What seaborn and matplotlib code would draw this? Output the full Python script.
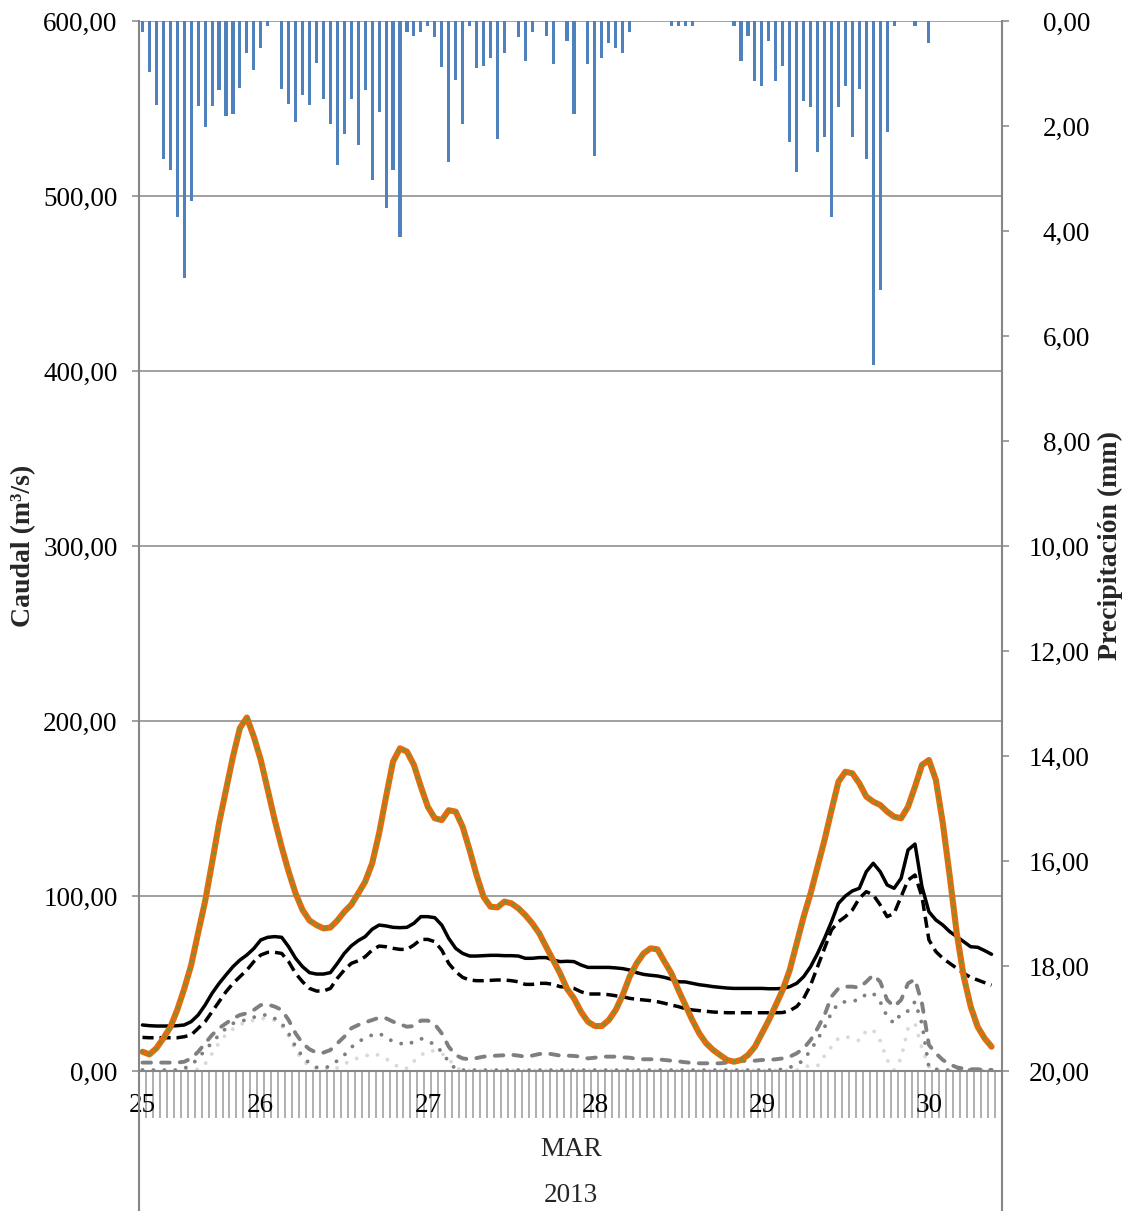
import numpy as np
import pandas as pd
import matplotlib
matplotlib.use("Agg")
import matplotlib.pyplot as plt
import seaborn as sns

# hourly categories, 25 MAR 07:00 -> 30 MAR 10:00
horas = np.arange(124)
dias = ["25", "26", "27", "28", "29", "30"]
dias_pos = [0, 17, 41, 65, 89, 113]

# precipitation (mm), one bar per hour
precipitacion = [
    0.20, 0.98, 1.60, 2.62, 2.83, 3.73, 4.90, 3.43, 1.61, 2.01,
    1.61, 1.31, 1.81, 1.78, 1.27, 0.60, 0.93, 0.52, 0.09, 0.00,
    1.29, 1.58, 1.93, 1.40, 1.60, 0.80, 1.49, 1.96, 2.74, 2.16,
    1.48, 2.36, 1.31, 3.02, 1.73, 3.56, 2.84, 4.11, 0.20, 0.29,
    0.20, 0.09, 0.30, 0.88, 2.69, 1.12, 1.97, 0.09, 0.90, 0.86,
    0.70, 2.25, 0.61, 0.00, 0.30, 0.76, 0.20, 0.00, 0.29, 0.82,
    0.00, 0.39, 1.77, 0.00, 0.81, 2.58, 0.70, 0.41, 0.51, 0.60,
    0.20, 0.00, 0.00, 0.00, 0.00, 0.00, 0.09, 0.09, 0.09, 0.09,
    0.00, 0.00, 0.00, 0.00, 0.00, 0.09, 0.76, 0.29, 1.14, 1.24,
    0.38, 1.14, 0.86, 2.30, 2.88, 1.53, 1.63, 2.50, 2.21, 3.74,
    1.63, 1.24, 2.21, 1.30, 2.62, 6.56, 5.12, 2.11, 0.09, 0.00,
    0.00, 0.09, 0.00, 0.41, 0.00, 0.00, 0.00, 0.00, 0.00, 0.00,
    0.00, 0.00, 0.00, 0.00,
]

# discharge series (m3/s)
caudal_obs = [
    11, 9.5, 13, 18.7, 25, 35, 47, 60.6, 79, 97,
    119, 141.5, 160.6, 179.6, 196, 201, 190, 177.7, 160.6, 143.4,
    128, 113.9, 101.5, 92, 86, 83.4, 81.5, 82, 86, 91,
    95, 101.5, 108.2, 118.7, 135.8, 156.8, 176.8, 184.4, 182.5, 174.9,
    162.5, 151, 144.4, 143.4, 149, 148.2, 139.6, 126.3, 112, 99.6,
    93.9, 93.5, 96.8, 95.8, 93, 89.1, 84.4, 78.7, 71, 63.4,
    55.8, 47, 41.5, 33.9, 28.2, 25.7, 25.7, 29.1, 34.9, 43.4,
    53.9, 61.5, 67.2, 70.1, 69.5, 62.5, 55.8, 46.3, 37.7, 29.1,
    21.5, 15.8, 12, 9.1, 6.3, 5.3, 6.3, 9.1, 13.9, 21.5,
    29.1, 37.7, 46.5, 57.7, 73, 88.2, 101.5, 116.8, 132, 149,
    165.3, 171, 170.1, 164.4, 156.8, 153.9, 152, 148.2, 145.3, 144.4,
    151, 162.5, 174.9, 177.7, 166.3, 141.5, 111, 78.7, 53.9, 36.8,
    25.3, 18.7, 13.9,
]
caudal_sim = [
    11, 9.5, 13, 18.7, 25, 35, 47, 60.6, 79, 97,
    119, 141.5, 160.6, 179.6, 196, 202, 191, 177.7, 160.6, 143.4,
    128, 113.9, 101.5, 92, 86, 83.4, 81.5, 82, 86, 91,
    95, 101.5, 108.2, 118.7, 135.8, 156.8, 176.8, 184.4, 182.5, 174.9,
    162.5, 151, 144.4, 143.4, 149, 148.2, 139.6, 126.3, 112, 99.6,
    93.9, 93.5, 96.8, 95.8, 93, 89.1, 84.4, 78.7, 71, 63.4,
    55.8, 47, 41.5, 33.9, 28.2, 25.7, 25.7, 29.1, 34.9, 43.4,
    53.9, 61.5, 67.2, 70.1, 69.5, 62.5, 55.8, 46.3, 37.7, 29.1,
    21.5, 15.8, 12, 9.1, 6.3, 5.3, 6.3, 9.1, 13.9, 21.5,
    29.1, 37.7, 46.5, 57.7, 73, 88.2, 101.5, 116.8, 132, 149,
    165.3, 171, 170.1, 164.4, 156.8, 153.9, 152, 148.2, 145.3, 144.4,
    151, 162.5, 174.9, 177.7, 166.3, 141.5, 111, 78.7, 53.9, 36.8,
    25.3, 18.7, 13.9,
]
caudal_base = [
    26.3, 25.9, 25.7, 25.7, 25.7, 25.9, 26.3, 28.2, 32, 37.7,
    44.4, 50, 54.9, 59.6, 63.4, 66.3, 70, 74.9, 76.4, 76.8,
    76.4, 71, 64.4, 59.6, 56.2, 55.4, 55.4, 56.2, 61.5, 67.2,
    71.5, 74.5, 76.8, 81, 83.4, 82.9, 82.1, 81.9, 82.1, 84.4,
    88.2, 88.2, 87.6, 83.4, 75.8, 70.1, 67.2, 65.7, 65.7, 65.9,
    66.1, 66.1, 65.9, 65.9, 65.7, 64.4, 64.4, 64.8, 64.8, 63.4,
    62.5, 62.7, 62.5, 60.6, 59.2, 59.2, 59.2, 59.2, 58.9, 58.5,
    57.7, 56.2, 55.2, 54.7, 54.3, 53.5, 52.4, 51, 50.9, 50.1,
    49.3, 48.8, 48.2, 47.8, 47.4, 47.2, 47.2, 47.2, 47.2, 47.2,
    47, 47, 47.2, 48.2, 50.1, 53.9, 59.6, 67.2, 75.8, 85.3,
    95.8, 100, 102.9, 104.4, 113.9, 118.7, 113.9, 106.3, 104.4, 110.1,
    126.3, 129.7, 105.3, 91, 86.3, 83.4, 79.6, 76.8, 73.9, 71,
    70.7, 68.8, 66.7,
]
caudal_base2 = [
    19.2, 19, 19, 19, 19, 19, 19.6, 20.6, 24.4, 28.2,
    33.9, 39.6, 45.3, 50, 53.9, 57.7, 62.5, 66.3, 67.8, 67.8,
    67.2, 62.5, 55.8, 51, 47.2, 45.7, 45.7, 47.2, 53, 57.7,
    61.5, 63, 65.3, 69.1, 71.4, 71, 70.1, 69.5, 69.5, 72,
    75.2, 75.2, 73.9, 69.1, 61.5, 56.8, 53.5, 52, 51.6, 51.6,
    51.8, 52, 52, 51.6, 51, 49.5, 49.5, 50.1, 50.1, 49.5,
    48.2, 47.9, 47.2, 45.3, 44, 44, 44, 43.6, 43, 42.5,
    41.5, 41, 40.6, 40.2, 39.6, 38.7, 37.7, 36.8, 35.6, 34.9,
    34.5, 34.1, 33.7, 33.5, 33.3, 33.3, 33.3, 33.3, 33.3, 33.3,
    33.3, 33.3, 33.4, 34.5, 36.8, 41.5, 49.1, 59.6, 70.1, 80.6,
    85.3, 88.2, 92, 98.7, 102.5, 100.6, 94.9, 88.2, 90.1, 99.6,
    109.1, 112, 99.6, 74.9, 68.2, 64.4, 61.5, 58.7, 55.8, 53.5,
    52, 50.5, 49.1,
]
caudal_sub1 = [
    4.8, 4.8, 4.8, 4.8, 4.8, 4.8, 5.3, 7.2, 11, 15.8,
    20.6, 24.4, 27.2, 30, 32, 33, 34.9, 37.7, 38, 36.8,
    34.9, 29.1, 21.5, 15.8, 12.4, 10.5, 10.5, 12, 15.8, 19.6,
    24.4, 26.3, 27.8, 29.1, 30.5, 30.1, 28.2, 26.7, 25.3, 25.7,
    28.8, 28.8, 26.7, 21.5, 13.9, 9.1, 7.2, 6.7, 7.4, 8.2,
    8.6, 8.8, 9, 9.3, 8.8, 8.2, 8.8, 9.7, 10.1, 9.5,
    8.8, 8.8, 8.6, 8.2, 7.2, 7.6, 8.2, 8.2, 8.2, 7.8,
    7.6, 6.9, 6.7, 6.7, 6.7, 6.3, 5.9, 5.5, 5, 4.6,
    4.4, 4.4, 4.4, 4.4, 4.8, 5.3, 5.7, 5.9, 5.9, 6.3,
    6.3, 6.7, 7.2, 8.2, 10.1, 13, 17.7, 24.4, 32, 42.5,
    47.2, 48.2, 48.2, 47.6, 51, 54.9, 51, 40.6, 36.8, 40.6,
    50.1, 52.4, 38.7, 14.9, 10.1, 6.3, 3.8, 2.1, 1.3, 1,
    1, 0.6, 0.6,
]
caudal_sub2 = [
    0.6, 0.5, 0.5, 0.5, 0.5, 0.5, 1.5, 3.4, 7.2, 12,
    16.2, 20.6, 24.4, 27.2, 28.6, 29.1, 30.7, 32, 32, 30,
    27.2, 21.5, 13.9, 8.2, 4.4, 2.1, 1.5, 2.9, 5.9, 9.1,
    13.5, 16.8, 18.7, 20.6, 21.5, 19.2, 16.8, 15.8, 15, 16.8,
    18.5, 17.3, 14.9, 11, 5.3, 1.1, 0.5, 0.5, 0.5, 0.5,
    0.5, 0.5, 0.5, 0.5, 0.5, 0.5, 0.5, 0.5, 0.5, 0.5,
    0.5, 0.5, 0.5, 0.5, 0.5, 0.5, 0.5, 0.5, 0.5, 0.5,
    0.5, 0.5, 0.5, 0.5, 0.5, 0.5, 0.5, 0.5, 0.5, 0.5,
    0.5, 0.5, 0.5, 0.5, 0.5, 0.5, 0.5, 0.5, 0.5, 0.5,
    0.5, 0.5, 1, 2.1, 3.4, 6.3, 12, 18.1, 25, 33.3,
    38.7, 39.6, 40, 40.6, 44, 44.4, 39.6, 31, 27.2, 32.8,
    34.3, 39.6, 27, 2, 1, 0.5, 0.5, 0.5, 0.5, 0.5,
    0.5, 0.5, 0.5,
]
caudal_sub3 = [
    0.3, 0.3, 0.3, 0.3, 0.3, 0.3, 0.3, 0.3, 1, 4,
    10, 16, 21, 24, 26.5, 28, 29, 30, 30, 29,
    26, 20, 12, 6, 3, 1.5, 1, 0.6, 1.8, 4,
    6, 7.5, 8.5, 10, 9, 7, 4.5, 1.5, 1.5, 5.5,
    9, 11.5, 11.5, 10, 7, 2, 0.3, 0.3, 0.3, 0.3,
    0.3, 0.3, 0.3, 0.3, 0.3, 0.3, 0.3, 0.3, 0.3, 0.3,
    0.3, 0.3, 0.3, 0.3, 0.3, 0.3, 0.3, 0.3, 0.3, 0.3,
    0.3, 0.3, 0.3, 0.3, 0.3, 0.3, 0.3, 0.3, 0.3, 0.3,
    0.3, 0.3, 0.3, 0.3, 0.3, 0.3, 0.3, 0.3, 0.3, 0.3,
    0.3, 0.3, 0.3, 0.3, 0.5, 2.5, 2.9, 2.9, 8.6, 13.9,
    18.7, 19.6, 18.7, 17.3, 23, 23.4, 17.3, 6.3, 0.6, 7.2,
    24.4, 27.2, 13, 2.5, 0.3, 0.3, 0.3, 0.3, 0.3, 0.3,
    0.3, 0.3, 0.3,
]

sns.set_style("white")
plt.rcParams["font.family"] = ["Liberation Serif", "DejaVu Serif"]
gris = "#868686"
fs = 19.5
fs_lab = 20

df = pd.DataFrame({
    "hora": horas[:len(caudal_obs)],
    "obs": caudal_obs,
    "sim": caudal_sim,
    "base": caudal_base,
    "base2": caudal_base2,
    "sub1": caudal_sub1,
    "sub2": caudal_sub2,
    "sub3": caudal_sub3,
})
dfp = pd.DataFrame({"hora": horas, "precip": precipitacion})

fig = plt.figure(figsize=(11.31, 12.11), dpi=100)
ax = fig.add_axes([139 / 1131, 1 - 1071 / 1211, 863 / 1131, 1050 / 1211])
ax2 = ax.twinx()

# discharge lines, bottom to top
sns.lineplot(data=df, x="hora", y="sub3", ax=ax, color="#D9D9D9", lw=2.8,
             linestyle=(0, (0.01, 2.8)), dash_capstyle="round")
sns.lineplot(data=df, x="hora", y="sub2", ax=ax, color="#7F7F7F", lw=2.8,
             linestyle=(0, (0.01, 2.8)), dash_capstyle="round")
sns.lineplot(data=df, x="hora", y="sub1", ax=ax, color="#7F7F7F", lw=2.8,
             linestyle=(0, (2.2, 2.6)), dash_capstyle="round")
sns.lineplot(data=df, x="hora", y="base2", ax=ax, color="black", lw=2.5,
             linestyle=(0, (3.2, 1.7)))
sns.lineplot(data=df, x="hora", y="base", ax=ax, color="black", lw=2.5)
sns.lineplot(data=df, x="hora", y="obs", ax=ax, color="#4F81BD", lw=2.5)
sns.lineplot(data=df, x="hora", y="sim", ax=ax, color="#E46C0A", lw=4.4)
sns.lineplot(data=df, x="hora", y="sim", ax=ax, color="#76923C", lw=2.7,
             linestyle=(0, (0.01, 2.1)), dash_capstyle="round")

# precipitation bars hanging from the top
sns.barplot(data=dfp, x="hora", y="precip", ax=ax2, color="#4F81BD",
            saturation=1, width=0.45, native_scale=True, linewidth=0)

ax.set_xlim(-0.5, len(horas) - 0.5)
ax.set_ylim(0, 600)
ax2.set_ylim(20, 0)

# left axis
yt = np.arange(0, 601, 100)
ax.set_yticks(yt)
ax.set_yticklabels([f"{v:.2f}".replace(".", ",") for v in yt])
ax.tick_params(axis="y", left=True, length=5.3, width=1.1, color=gris, pad=10,
               labelsize=fs, labelcolor="black")
ax.grid(axis="y", color=gris, lw=1.1)
ax.grid(axis="x", visible=False)
ax.set_ylabel("Caudal (m³/s)", fontsize=fs_lab, fontweight="bold", labelpad=5)

# right axis
yt2 = np.arange(0, 21, 2)
ax2.set_yticks(yt2)
ax2.set_yticklabels([f"{v:.2f}".replace(".", ",") for v in yt2])
ax2.tick_params(axis="y", right=True, length=5.3, width=1.1, color=gris, pad=58,
                labelsize=fs, labelcolor="black")
for lab in ax2.get_yticklabels():
    lab.set_horizontalalignment("right")
ax2.set_ylabel("Precipitación (mm)", fontsize=fs_lab, fontweight="bold", labelpad=6)
ax2.set_xlabel("")

# category axis: hourly tick marks, day labels
ax.set_xticks(np.arange(-0.5, len(horas), 1))
ax.set_xticklabels([])
ax.tick_params(axis="x", which="major", bottom=True, length=34, width=1.1,
               color="#9A9A9A", direction="out")
ax.set_xticks(dias_pos, minor=True)
ax.set_xticklabels(dias, minor=True)
ax.tick_params(axis="x", which="minor", bottom=True, length=0, pad=16,
               labelsize=fs, labelcolor="black")
ax.set_xlabel("")

for a in (ax, ax2):
    for s in a.spines.values():
        s.set_visible(False)
ax.spines["left"].set_visible(True)
ax.spines["bottom"].set_visible(True)
ax2.spines["right"].set_visible(True)
for s in (ax.spines["left"], ax.spines["bottom"], ax2.spines["right"]):
    s.set_color(gris)
    s.set_linewidth(1.5)

# group separators below the axis
ax.axvline(-0.5, ymin=-0.14, ymax=0, clip_on=False, color=gris, lw=1.5)
ax.axvline(len(horas) - 0.5, ymin=-0.14, ymax=0, clip_on=False, color=gris, lw=1.5)

fig.text(571 / 1131, 1 - 1150 / 1211, "MAR", ha="center", va="center", fontsize=fs)
fig.text(571 / 1131, 1 - 1196 / 1211, "2013", ha="center", va="center", fontsize=fs)

fig.savefig("out.png", dpi=100)
